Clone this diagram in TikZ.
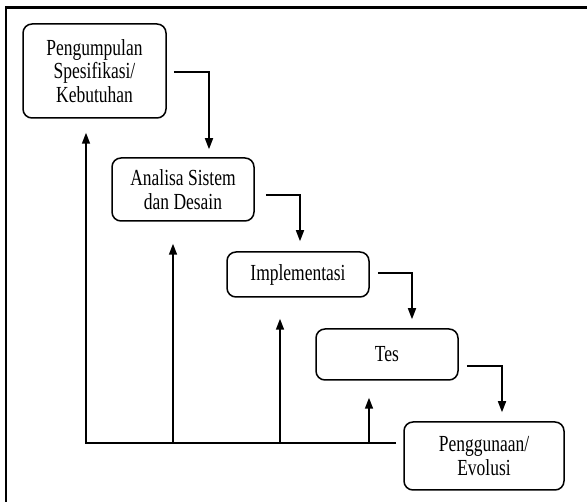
\documentclass[tikz,border=0pt]{standalone}
\usepackage{fontspec}
\setmainfont{Liberation Serif}[FakeStretch=0.76]
\usepackage{tikz}
\usetikzlibrary{
    arrows.meta,
    calc,
    positioning
}

\tikzset{
    tahap/.style={draw, line width=1.5pt, rounded corners=9pt, align=center,
        inner sep=0pt, font=\fontsize{23}{23.5}\selectfont},
    alur/.style={line width=1.6pt, -{Triangle[length=11pt, width=8pt]}}
}

\begin{document}
\begin{tikzpicture}[x=1pt, y=-1pt]
                        \useasboundingbox (0, 0) rectangle (587, 502);
                        \draw[line width=2.5pt] (6, 502) -- (6, 7.5) -- (587, 7.5);
                        % tahapan
                        \node[tahap, minimum width=143pt, minimum height=94pt] (spek) at (94.5, 71)
                            {Pengumpulan\\Spesifikasi/\\Kebutuhan};
                        \node[tahap, minimum width=142pt, minimum height=63pt] (analisa) at (183, 189.5)
                            {Analisa Sistem\\dan Desain};
                        \node[tahap, minimum width=142pt, minimum height=45pt] (impl) at (298, 274.5)
                            {Implementasi};
                        \node[tahap, minimum width=142pt, minimum height=51pt] (tes) at (387, 354.5)
                            {Tes};
                        \node[tahap, minimum width=160pt, minimum height=68pt] (guna) at (484, 456)
                            {Penggunaan/\\Evolusi};
                        % alur maju
                        \draw[alur] ([xshift=7pt, yshift=-1pt]spek.east) -| ([xshift=26pt, yshift=8pt]analisa.north);
                        \draw[alur] ([xshift=11pt, yshift=-5.5pt]analisa.east) -| ([xshift=2pt, yshift=10pt]impl.north);
                        \draw[alur] ([xshift=8pt, yshift=1.5pt]impl.east) -| ([xshift=25pt, yshift=9pt]tes.north);
                        \draw[alur] ([xshift=8pt, yshift=-11.5pt]tes.east) -| ([xshift=18pt, yshift=9pt]guna.north);
                        % alur balik
                        \coordinate (ujung) at (396, 443);
                        \coordinate (k2) at (173, 443);
                        \coordinate (k3) at (280, 443);
                        \coordinate (k4) at (369, 443);
                        \draw[alur] (ujung) -| ([xshift=-8.5pt, yshift=-14pt]spek.south);
                        \draw[alur] (k2) -- ([xshift=-10pt, yshift=-22pt]analisa.south);
                        \draw[alur] (k3) -- ([xshift=-18pt, yshift=-21pt]impl.south);
                        \draw[alur] (k4) -- ([xshift=-18pt, yshift=-17pt]tes.south);
                    \end{tikzpicture}
\end{document}
